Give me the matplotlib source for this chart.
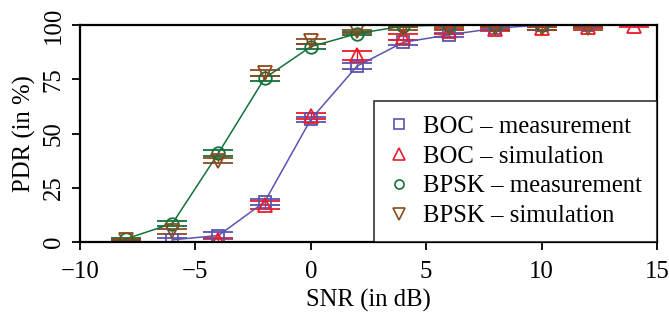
import matplotlib
matplotlib.use("Agg")
import matplotlib.pyplot as plt
from matplotlib.lines import Line2D

plt.rcParams['font.family'] = ['Liberation Serif', 'DejaVu Serif']

# data
snr_boc_meas = [-6, -4, -2, 0, 2, 4, 6, 8, 10, 12]
boc_meas = [1, 3, 18.5, 56.5, 81, 92, 95.5, 98.5, 100, 100]
boc_meas_err = [0.8, 1.5, 1.3, 1.3, 1.4, 1.2, 1.0, 0.8, 0.5, 0.3]

snr_boc_sim = [-4, -2, 0, 2, 4, 6, 8, 10, 12, 14]
boc_sim = [1, 17, 58, 86, 94.5, 97, 98, 98.5, 99, 99.5]
boc_sim_err = [1.0, 1.8, 1.5, 2.2, 1.3, 1.0, 0.8, 0.6, 0.5, 0.4]

snr_bpsk_meas = [-8, -6, -4, -2, 0, 2, 4, 6, 8, 10]
bpsk_meas = [1.5, 8.5, 41, 75.5, 90, 96, 99.5, 100, 100, 100]
bpsk_meas_err = [0.5, 1.3, 1.3, 1.2, 1.2, 0.8, 0.4, 0.2, 0.1, 0.1]

snr_bpsk_sim = [-8, -6, -4, -2, 0, 2, 4, 6, 8, 10, 12]
bpsk_sim = [0.8, 5, 37.5, 78, 92.5, 97, 98.5, 98.5, 98.5, 98.5, 98.5]
bpsk_sim_err = [0.5, 1.2, 1.2, 1.3, 1.1, 0.8, 0.6, 0.6, 0.6, 0.6, 0.6]

labels = ["BOC – measurement", "BOC – simulation",
          "BPSK – measurement", "BPSK – simulation"]

c_blue = '#5a54b0'
c_red = '#ec1c2a'
c_green = '#14703c'
c_brown = '#8b4a1c'

fig = plt.figure(figsize=(6.69, 3.22), dpi=100)
ax = fig.add_axes([0.1196, 0.2484, 0.8624, 0.674])

cap = 10.8
ax.errorbar(snr_boc_meas, boc_meas, yerr=boc_meas_err, color=c_blue,
            marker='s', ms=8.5, mfc='none', mew=1.3, lw=1.1,
            capsize=cap, capthick=1.4, elinewidth=1.0)
ax.errorbar(snr_boc_sim, boc_sim, yerr=boc_sim_err, color=c_red,
            marker='^', ms=10, mfc='none', mew=1.3, ls='none',
            capsize=cap, capthick=1.4, elinewidth=1.0)
ax.errorbar(snr_bpsk_meas, bpsk_meas, yerr=bpsk_meas_err, color=c_green,
            marker='o', ms=9, mfc='none', mew=1.3, lw=1.1,
            capsize=cap, capthick=1.4, elinewidth=1.0)
ax.errorbar(snr_bpsk_sim, bpsk_sim, yerr=bpsk_sim_err, color=c_brown,
            marker='v', ms=10, mfc='none', mew=1.3, ls='none',
            capsize=cap, capthick=1.4, elinewidth=1.0)

ax.set_xlim(-10, 15)
ax.set_ylim(0, 100)
ax.set_xticks([-10, -5, 0, 5, 10, 15])
ax.set_xticklabels(['−10', '−5', '0', '5', '10', '15'])
ax.set_yticks([0, 25, 50, 75, 100])
for lab in ax.get_yticklabels():
    lab.set_rotation(90)
    lab.set_va('center')
ax.tick_params(direction='out', length=6, width=1.3, labelsize=17.8)
ax.tick_params(axis='x', pad=8)
ax.tick_params(axis='y', pad=5)
for s in ax.spines.values():
    s.set_linewidth(1.6)
ax.set_xlabel("SNR (in dB)", fontsize=17.8, labelpad=4)
ax.set_ylabel("PDR (in %)", fontsize=17.8, labelpad=5)

handles = [
    Line2D([], [], color=c_blue, marker='s', ms=6.5, mfc='none', mew=1.2, ls='none'),
    Line2D([], [], color=c_red, marker='^', ms=8, mfc='none', mew=1.2, ls='none'),
    Line2D([], [], color=c_green, marker='o', ms=6.5, mfc='none', mew=1.2, ls='none'),
    Line2D([], [], color=c_brown, marker='v', ms=8, mfc='none', mew=1.2, ls='none'),
]
leg = ax.legend(handles, labels, loc='lower right', fontsize=17.8,
                frameon=True, fancybox=False, borderaxespad=0,
                handlelength=0.8, handletextpad=0.6, labelspacing=0.3,
                borderpad=0.6)
leg.get_frame().set_edgecolor('black')
leg.get_frame().set_linewidth(1.2)

fig.savefig("out.png", dpi=100)
